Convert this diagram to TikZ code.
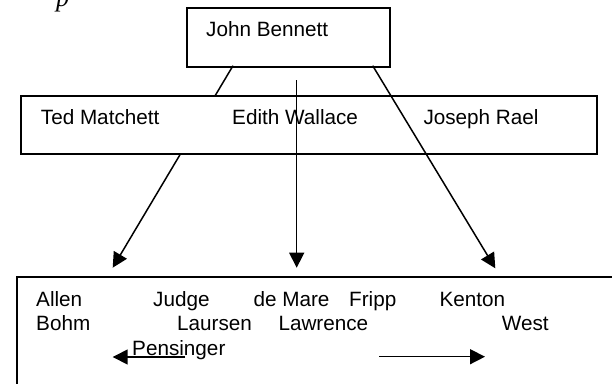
\documentclass[tikz,border=0pt]{standalone}
\usepackage{fontspec}
\setmainfont{Liberation Sans}
\newfontfamily\serifit{Liberation Serif}
\usetikzlibrary{arrows.meta}
\begin{document}
\begin{tikzpicture}[x=1pt,y=-1pt,
  boxline/.style={draw=black,line width=2pt,fill=white},
  conn/.style={draw=black,line width=1.5pt},
  arr/.style={conn,-{Triangle[length=15pt,width=15pt]}},
  lbl/.style={anchor=base west,inner sep=0pt,font=\fontsize{20.7}{24}\selectfont}]
\useasboundingbox (0,0) rectangle (612,383);
\clip (0,0) rectangle (612,383);
% cut-off italic glyph at top
\node[anchor=base west,inner sep=0pt,font=\serifit\itshape\fontsize{26}{30}\selectfont] (pglyph) at (56,6) {p};
% top box
\node[boxline,anchor=north west,minimum width=203.3pt,minimum height=58.4pt,inner sep=0pt] (jb) at (186,7.3) {};
\node[lbl] (jbt) at (206,36.7) {John Bennett};
% connector endpoints
\coordinate (l0) at (233,65.7);
\coordinate (ltip) at (112.7,267.7);
\coordinate (r0) at (372.7,65.7);
\coordinate (rtip) at (495.3,268.3);
\coordinate (m0) at (296.7,80);
\coordinate (mtip) at (296.7,267.7);
% left connector (hidden behind middle box)
\draw[arr] (l0) -- (ltip);
% middle box
\node[boxline,anchor=north west,minimum width=576pt,minimum height=58.6pt,inner sep=0pt] (mid) at (20,94.6) {};
\node[lbl] (tm) at (40.7,124) {Ted Matchett};
\node[lbl] (ew) at (232,124) {Edith Wallace};
\node[lbl] (jr) at (423.3,124.2) {Joseph Rael};
% connectors over the middle box
\draw[arr] (r0) -- (rtip);
\draw[arr] (m0) -- (mtip);
% bottom box (extends beyond the picture)
\node[boxline,anchor=north west,minimum width=640pt,minimum height=140pt,inner sep=0pt] (bot) at (15.7,276) {};
\node[lbl] (allen) at (36,306) {Allen};
\node[lbl] (judge) at (153,306) {Judge};
\node[lbl] (demare) at (253.3,306) {de Mare};
\node[lbl] (fripp) at (349,306) {Fripp};
\node[lbl] (kenton) at (439.3,306) {Kenton};
\node[lbl] (bohm) at (36,330.5) {Bohm};
\node[lbl] (laursen) at (177,330.5) {Laursen};
\node[lbl] (lawrence) at (278.3,330.5) {Lawrence};
\node[lbl] (west) at (501.7,330.5) {West};
\node[lbl] (pens) at (132,355) {Pensinger};
\coordinate (a1s) at (185,357);
\coordinate (a1e) at (112.7,357);
\coordinate (a2s) at (379,356.7);
\coordinate (a2e) at (485,356.7);
\draw[arr] (a1s) -- (a1e);
\draw[arr] (a2s) -- (a2e);
\end{tikzpicture}
\end{document}
